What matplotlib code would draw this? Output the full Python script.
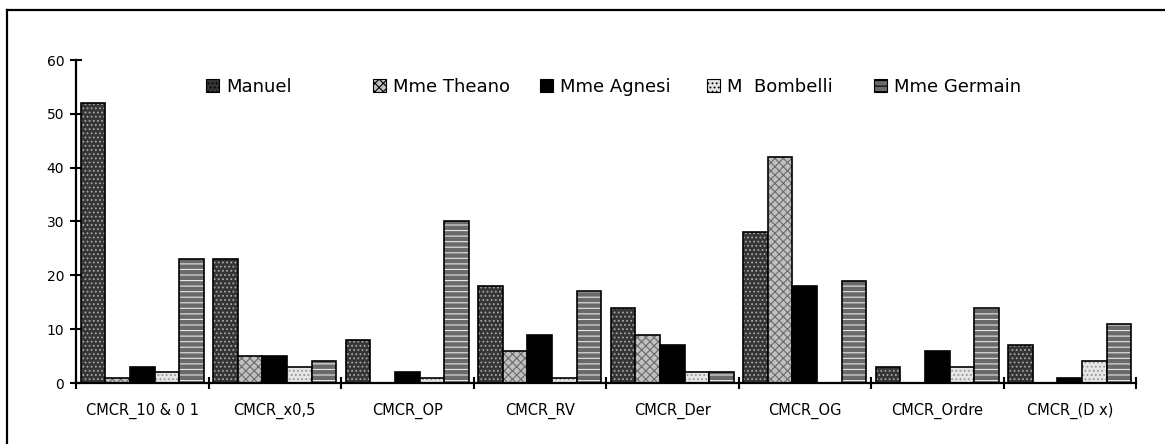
import numpy as np
import matplotlib
matplotlib.use("Agg")
import matplotlib.pyplot as plt
from matplotlib.patches import Rectangle
from matplotlib.lines import Line2D

plt.rcParams['font.family'] = ['DejaVu Sans']
plt.rcParams['hatch.linewidth'] = 0.8

categories = ["CMCR_10 & 0 1", "CMCR_x0,5", "CMCR_OP", "CMCR_RV",
              "CMCR_Der", "CMCR_OG", "CMCR_Ordre", "CMCR_(D x)"]
series_names = ["Manuel", "Mme Theano", "Mme Agnesi", "M  Bombelli", "Mme Germain"]
manuel = [52, 23, 8, 18, 14, 28, 3, 7]
theano = [1, 5, 0, 6, 9, 42, 0, 0]
agnesi = [3, 5, 2, 9, 7, 18, 6, 1]
bombelli = [2, 3, 1, 1, 2, 0, 3, 4]
germain = [23, 4, 30, 17, 2, 19, 14, 11]
y_ticks = [0, 10, 20, 30, 40, 50, 60]

series = [manuel, theano, agnesi, bombelli, germain]
# face colour, hatch colour, hatch pattern
styles = [
    ("#353535", "#a8a8a8", "...."),
    ("#c0c0c0", "#6a6a6a", "xxxx"),
    ("#000000", "#000000", None),
    ("#e6e6e6", "#959595", "...."),
    ("#6a6a6a", "#e6e6e6", "---"),
]

W, H = 1165, 444
fig = plt.figure(figsize=(W / 100, H / 100), dpi=100)
ax = fig.add_axes([76 / W, 61 / H, (1136 - 76) / W, (383 - 60) / H])

x = np.arange(len(categories))
bw = 0.185
offsets = (np.arange(len(series)) - 2) * bw
handles = []
for vals, off, (fc, hc, hp), name in zip(series, offsets, styles, series_names):
    ax.bar(x + off, vals, bw, color=fc, edgecolor=hc, hatch=hp, linewidth=0)
    ax.bar(x + off, vals, bw, fill=False, edgecolor="black", linewidth=1.2)
    handles.append(Rectangle((0, 0), 1, 1, facecolor=fc, edgecolor="black",
                             hatch=hp, linewidth=0.8, label=name))

ax.set_xlim(-0.5, len(categories) - 0.5)
ax.set_ylim(0, 60)
ax.set_yticks(y_ticks)
ax.tick_params(axis="y", direction="inout", length=9, width=1.5, labelsize=10, pad=4)

ax.set_xticks(np.arange(len(categories) + 1) - 0.5)
ax.set_xticklabels([])
ax.tick_params(axis="x", which="major", direction="inout", length=9, width=1.5)
ax.set_xticks(x, minor=True)
ax.set_xticklabels(categories, minor=True, fontsize=10.5)
ax.tick_params(axis="x", which="minor", length=0, pad=14)

for side in ("top", "right"):
    ax.spines[side].set_visible(False)
for side in ("left", "bottom"):
    ax.spines[side].set_linewidth(1.6)

# legend entries laid out at equal spacing
for i, h in enumerate(handles):
    leg = fig.legend(handles=[h], loc="center left",
                     bbox_to_anchor=((206 + 167 * i) / W, 1 - 87 / H),
                     frameon=False, fontsize=13, handlelength=0.72,
                     handleheight=0.72, handletextpad=0.4,
                     borderpad=0, borderaxespad=0)

# outer chart border (top and left edges)
fig.add_artist(Line2D([7 / W, 1], [1 - 10 / H, 1 - 10 / H],
                      transform=fig.transFigure, color="black", linewidth=1.6))
fig.add_artist(Line2D([7 / W, 7 / W], [0, 1 - 10 / H],
                      transform=fig.transFigure, color="black", linewidth=1.6))

fig.savefig("out.png", dpi=100, facecolor="white")
